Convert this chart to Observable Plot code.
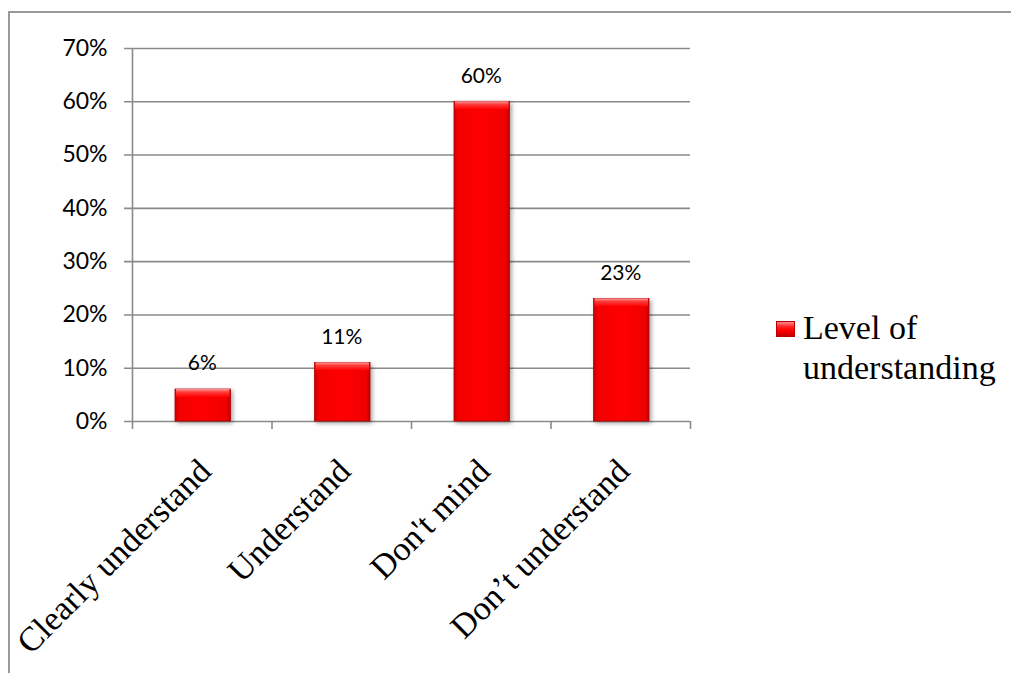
<!DOCTYPE html>
<html>
<head>
<meta charset="utf-8">
<script src="https://cdn.jsdelivr.net/npm/d3@7"></script>
<script src="https://cdn.jsdelivr.net/npm/@observablehq/plot@0.6"></script>
<style>
  body { margin: 0; background: #fff; }
  #chart { position: relative; width: 1011px; height: 673px; overflow: hidden; background: #fff; }
  #chart svg { position: absolute; left: 0; top: 0; }
  #frame { position: absolute; left: 8px; top: 11px; width: 1200px; height: 900px;
           border-left: 2px solid #9a9a9a; border-top: 2px solid #9a9a9a; }
  #legend-swatch { position: absolute; left: 776px; top: 321px; width: 17px; height: 14px;
           border: 1px solid #b80000;
           background: linear-gradient(180deg, #ff8a8a 0%, #ff2020 35%, #ff0000 60%, #c80000 100%); }
  #legend-text { position: absolute; left: 803px; top: 308px;
           font-family: "Liberation Serif", "Times New Roman", serif; font-size: 34px; line-height: 40px; color: #000; }
</style>
</head>
<body>
<div id="chart">
  <div id="frame"></div>
</div>
<script>
// Survey answers and their shares
const categories = ["Clearly understand", "Understand", "Don't mind", "Don\u2019t understand"];
const values = [0.06, 0.11, 0.60, 0.23];
const valueLabels = ["6%", "11%", "60%", "23%"];
const yTicks = [0, 0.1, 0.2, 0.3, 0.4, 0.5, 0.6, 0.7];
const boundaries = [1, 2, 3, 4];
const seriesName = ["Level of", "understanding"];

const rows = categories.map((c, i) => ({i, category: c, value: values[i], label: valueLabels[i]}));

const grid = "#8a8a8a";
const sans = "Lato, 'Open Sans', sans-serif";
const serif = "'Liberation Serif', 'Times New Roman', serif";

const plot = Plot.plot({
  width: 1011,
  height: 673,
  marginLeft: 132,
  marginRight: 321,
  marginTop: 48,
  marginBottom: 252,
  x: {domain: [0, categories.length], axis: null},
  y: {domain: [0, 0.7], axis: null},
  style: {background: "transparent", overflow: "visible"},
  marks: [
    // horizontal gridlines (with the small left ticks)
    Plot.ruleY(yTicks, {y: d => d, x1: 0, x2: categories.length, insetLeft: -8, stroke: grid, strokeWidth: 1.6}),
    // vertical axis line, running down into the first category tick
    Plot.ruleX([0], {x: d => d, y1: 0.7, y2: 0, insetBottom: -8, stroke: grid, strokeWidth: 1.6}),
    // category boundary ticks below the baseline
    Plot.ruleX(boundaries, {x: d => d, y1: 0, y2: 0, insetBottom: -8, stroke: grid, strokeWidth: 1.6}),
    // bars
    Plot.rect(rows, {x1: d => d.i, x2: d => d.i + 1, y1: 0, y2: "value", insetLeft: 43, insetRight: 41,
      fill: "url(#barFill)", stroke: "#b40000", strokeWidth: 0.8}),
    // top bevel of each bar
    Plot.rect(rows, {x1: d => d.i, x2: d => d.i + 1, y1: "value", y2: "value", insetLeft: 44, insetRight: 42,
      insetBottom: -8, fill: "url(#barBevel)"}),
    // value labels
    Plot.text(rows, {x: d => d.i + 0.5, y: "value", text: "label", dy: -26, fontSize: 21, fontFamily: sans, fill: "#000"}),
    // y tick labels
    Plot.text(yTicks, {x: 0, y: d => d, text: d => d3.format(".0%")(d), textAnchor: "end", dx: -25,
      fontSize: 23, fontFamily: sans, fill: "#000"}),
    // rotated category labels
    Plot.text(rows, {x: d => d.i + 0.5, y: 0, text: "category", rotate: -45, textAnchor: "end",
      dx: 3, dy: 44, fontSize: 34, fontFamily: serif, fill: "#000"})
  ]
});

// gradients for the bevelled bars
const svg = d3.select(plot);
const defs = svg.insert("defs", ":first-child");
const fillGrad = defs.append("linearGradient").attr("id", "barFill").attr("x1", 0).attr("x2", 1).attr("y1", 0).attr("y2", 0);
[["0%", "#c40000"], ["7%", "#f20000"], ["50%", "#ff0000"], ["93%", "#f00000"], ["100%", "#c00000"]]
  .forEach(([o, c]) => fillGrad.append("stop").attr("offset", o).attr("stop-color", c));
const bevelGrad = defs.append("linearGradient").attr("id", "barBevel").attr("x1", 0).attr("x2", 0).attr("y1", 0).attr("y2", 1);
[["0%", "#ff9a9a"], ["40%", "#ff3a3a"], ["100%", "#ff0000"]]
  .forEach(([o, c]) => bevelGrad.append("stop").attr("offset", o).attr("stop-color", c));

svg.selectAll("rect").filter(function() { return this.getAttribute("fill") === "url(#barFill)" || (this.parentNode && this.parentNode.getAttribute("fill") === "url(#barFill)"); })
  .each(function() {
    const g = this.getAttribute("fill") ? this : this.parentNode;
    g.style.filter = "drop-shadow(2px 2px 2px rgba(0,0,0,0.35))";
  });

const chart = document.getElementById("chart");
chart.appendChild(plot);

// legend
const sw = document.createElement("div");
sw.id = "legend-swatch";
chart.appendChild(sw);
const lt = document.createElement("div");
lt.id = "legend-text";
lt.innerHTML = seriesName.join("<br>");
chart.appendChild(lt);
</script>
</body>
</html>
